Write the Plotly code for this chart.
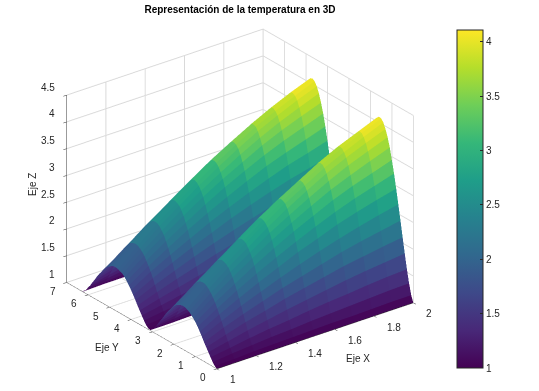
import plotly.graph_objects as go

x_values = [1.0,1.1,1.2,1.3,1.4,1.5,1.6,1.7,1.8,1.9,2.0]
y_values = [0,.1,.2,.3,.4,.5,.6,.7,.8,.9,1.0,1.1,1.2,1.3,1.4,1.5,1.6,1.7,1.8,1.9,2.0,2.1,2.2,2.3,2.4,2.5,2.6,2.7,2.8,2.9,3.0,3.1,
            3.2,3.3,3.4,3.5,3.6,3.7,3.8,3.9,4.0,4.1,4.2,4.3,4.4,4.5,4.6,4.7,4.8,4.9,5.0,5.1,5.2,5.3,5.4,5.5,5.6,5.7,5.8,5.9,6.0,6.1,6.2,6.283]
z_rows = [
[1.00,1.00,1.00,1.00,1.00,1.00,1.00,1.00,1.00,1.00,1.00],
[1.03,1.04,1.06,1.07,1.08,1.09,1.10,1.10,1.11,1.12,1.12],
[1.08,1.12,1.15,1.18,1.20,1.23,1.25,1.27,1.29,1.31,1.32],
[1.15,1.20,1.26,1.31,1.35,1.40,1.44,1.47,1.51,1.54,1.56],
[1.22,1.30,1.38,1.45,1.52,1.58,1.64,1.70,1.75,1.79,1.83],
[1.29,1.40,1.51,1.60,1.70,1.78,1.86,1.94,2.00,2.06,2.11],
[1.36,1.51,1.64,1.76,1.88,1.98,2.08,2.18,2.26,2.33,2.40],
[1.44,1.61,1.77,1.91,2.05,2.18,2.30,2.41,2.51,2.60,2.68],
[1.51,1.71,1.89,2.06,2.22,2.38,2.51,2.65,2.76,2.86,2.95],
[1.58,1.80,2.01,2.20,2.38,2.55,2.71,2.86,2.99,3.10,3.21],
[1.64,1.89,2.11,2.33,2.53,2.72,2.89,3.06,3.20,3.32,3.44],
[1.69,1.96,2.21,2.44,2.66,2.86,3.05,3.23,3.38,3.52,3.65],
[1.73,2.02,2.29,2.53,2.77,2.98,3.18,3.37,3.54,3.68,3.82],
[1.77,2.07,2.35,2.60,2.85,3.08,3.29,3.49,3.66,3.81,3.95],
[1.79,2.11,2.39,2.66,2.91,3.15,3.36,3.57,3.74,3.90,4.05],
[1.81,2.13,2.41,2.68,2.94,3.18,3.40,3.61,3.79,3.95,4.10],
[1.81,2.13,2.42,2.69,2.95,3.19,3.41,3.62,3.80,3.96,4.11],
[1.80,2.12,2.40,2.67,2.93,3.16,3.38,3.59,3.77,3.92,4.07],
[1.78,2.09,2.37,2.63,2.88,3.11,3.32,3.52,3.70,3.85,3.99],
[1.75,2.05,2.31,2.56,2.81,3.03,3.23,3.43,3.59,3.74,3.88],
[1.71,1.99,2.24,2.48,2.71,2.92,3.11,3.29,3.45,3.59,3.72],
[1.66,1.92,2.16,2.38,2.59,2.78,2.96,3.13,3.28,3.41,3.53],
[1.60,1.84,2.05,2.25,2.45,2.62,2.79,2.94,3.08,3.20,3.31],
[1.54,1.75,1.94,2.12,2.29,2.45,2.60,2.74,2.86,2.96,3.06],
[1.47,1.65,1.82,1.98,2.13,2.26,2.39,2.51,2.62,2.71,2.79],
[1.39,1.55,1.69,1.82,1.95,2.07,2.17,2.28,2.36,2.44,2.51],
[1.32,1.45,1.56,1.67,1.77,1.87,1.95,2.03,2.11,2.17,2.23],
[1.25,1.34,1.43,1.51,1.59,1.67,1.73,1.80,1.85,1.90,1.95],
[1.17,1.24,1.31,1.37,1.42,1.47,1.52,1.57,1.60,1.64,1.67],
[1.11,1.15,1.19,1.23,1.26,1.30,1.33,1.35,1.38,1.40,1.42],
[1.05,1.07,1.09,1.11,1.13,1.14,1.16,1.17,1.18,1.19,1.20],
[1.01,1.01,1.02,1.02,1.02,1.03,1.03,1.03,1.03,1.03,1.04],
[1.02,1.02,1.03,1.03,1.04,1.04,1.05,1.05,1.05,1.06,1.06],
[1.06,1.09,1.11,1.13,1.15,1.16,1.18,1.20,1.21,1.22,1.23],
[1.12,1.17,1.21,1.25,1.29,1.32,1.36,1.39,1.41,1.44,1.46],
[1.19,1.26,1.33,1.39,1.45,1.51,1.56,1.61,1.65,1.68,1.72],
[1.26,1.36,1.45,1.54,1.62,1.70,1.77,1.84,1.89,1.94,1.99],
[1.33,1.46,1.58,1.69,1.80,1.90,1.99,2.08,2.15,2.22,2.28],
[1.41,1.57,1.71,1.85,1.98,2.10,2.21,2.32,2.41,2.49,2.56],
[1.48,1.67,1.84,2.00,2.15,2.30,2.43,2.55,2.66,2.75,2.84],
[1.55,1.77,1.96,2.14,2.32,2.48,2.63,2.77,2.90,3.00,3.11],
[1.61,1.85,2.07,2.28,2.47,2.65,2.82,2.98,3.11,3.23,3.35],
[1.67,1.93,2.17,2.39,2.61,2.81,2.99,3.16,3.31,3.44,3.57],
[1.72,2.00,2.26,2.50,2.73,2.94,3.13,3.32,3.48,3.62,3.75],
[1.76,2.05,2.32,2.58,2.82,3.04,3.25,3.44,3.61,3.76,3.90],
[1.78,2.09,2.38,2.64,2.89,3.12,3.34,3.54,3.71,3.87,4.01],
[1.80,2.12,2.41,2.67,2.93,3.17,3.39,3.60,3.77,3.93,4.08],
[1.81,2.13,2.42,2.69,2.95,3.19,3.41,3.62,3.80,3.96,4.11],
[1.81,2.12,2.41,2.68,2.94,3.18,3.40,3.61,3.79,3.95,4.09],
[1.79,2.10,2.38,2.65,2.90,3.14,3.35,3.55,3.73,3.89,4.03],
[1.76,2.07,2.34,2.59,2.84,3.07,3.27,3.47,3.64,3.79,3.93],
[1.73,2.01,2.28,2.52,2.75,2.97,3.16,3.35,3.51,3.66,3.79],
[1.68,1.95,2.19,2.42,2.64,2.84,3.03,3.20,3.35,3.49,3.62],
[1.63,1.87,2.10,2.31,2.51,2.69,2.86,3.03,3.16,3.29,3.40],
[1.56,1.79,1.99,2.18,2.36,2.53,2.68,2.83,2.95,3.06,3.17],
[1.50,1.69,1.87,2.04,2.20,2.34,2.48,2.61,2.72,2.81,2.91],
[1.43,1.59,1.75,1.89,2.02,2.15,2.27,2.38,2.47,2.55,2.63],
[1.35,1.49,1.62,1.73,1.85,1.95,2.05,2.14,2.22,2.28,2.35],
[1.28,1.39,1.49,1.58,1.67,1.75,1.82,1.90,1.96,2.01,2.06],
[1.20,1.28,1.36,1.43,1.49,1.55,1.61,1.66,1.71,1.75,1.78],
[1.14,1.19,1.24,1.28,1.33,1.37,1.40,1.44,1.47,1.50,1.52],
[1.07,1.10,1.13,1.16,1.18,1.20,1.22,1.24,1.26,1.27,1.29],
[1.02,1.03,1.04,1.05,1.06,1.07,1.07,1.08,1.09,1.09,1.10],
[1.00,1.00,1.00,1.00,1.00,1.00,1.00,1.00,1.00,1.00,1.00],
]
x_ticks = [1,1.2,1.4,1.6,1.8,2]
x_tick_text = ['1','1.2','1.4','1.6','1.8','2']
y_ticks = [0,1,2,3,4,5,6,7]
y_tick_text = ['0','1','2','3','4','5','6','7']
z_ticks = [1,1.5,2,2.5,3,3.5,4,4.5]
z_tick_text = ['1','1.5','2','2.5','3','3.5','4','4.5']
bar_ticks = [1,1.5,2,2.5,3,3.5,4]
bar_tick_text = ['1','1.5','2','2.5','3','3.5','4']

W,H=539,391
def px(v): return v/W
def py(v): return 1-v/H

vx,vy,vz=[],[],[]
for r,y in enumerate(y_values):
    for c,x in enumerate(x_values):
        vx.append(x);vy.append(y);vz.append(z_rows[r][c])
nc=len(x_values)
I,J,K,cell=[],[],[],[]
for r in range(len(y_values)-1):
    for c in range(nc-1):
        a=r*nc+c;b=a+1;d=a+nc;e=d+1
        m=(vz[a]+vz[b]+vz[d]+vz[e])/4
        I+=[a,a];J+=[b,e];K+=[e,d];cell+=[m,m]
dark='#262626'
font=dict(family='Liberation Sans',size=10,color=dark)
fig=go.Figure(go.Mesh3d(x=vx,y=vy,z=vz,i=I,j=J,k=K,intensity=cell,intensitymode='cell',colorscale='Viridis',cmin=1,cmax=4.11,
    flatshading=True,lighting=dict(ambient=1,diffuse=0,specular=0,fresnel=0,roughness=1),hoverinfo='skip',
    colorbar=dict(x=px(457),xanchor='left',y=py(199),yanchor='middle',len=338/H,lenmode='fraction',thickness=26,thicknessmode='pixels',
        ticks='inside',ticklen=3,tickcolor=dark,tickvals=bar_ticks,ticktext=bar_tick_text,
        outlinecolor=dark,outlinewidth=1,tickfont=font,xpad=0,ypad=0)))
ax=dict(showbackground=False,gridcolor='#d9d9d9',showline=True,linecolor=dark,linewidth=1,ticks='outside',ticklen=4,tickcolor=dark,
    showticklabels=False,showspikes=False,zeroline=False,title=dict(text=''))
scene_notes=[]
for v,t in zip(x_ticks,x_tick_text):
    scene_notes.append(dict(x=v,y=0,z=1,text=t,showarrow=False,xanchor='left',yanchor='middle',xshift=11,yshift=-11,font=font))
for v,t in zip(y_ticks,y_tick_text):
    scene_notes.append(dict(x=1,y=v,z=1,text=t,showarrow=False,xanchor='center',yanchor='middle',xshift=-14,yshift=-9,font=font))
for v,t in zip(z_ticks,z_tick_text):
    scene_notes.append(dict(x=1,y=7,z=v,text=t,showarrow=False,xanchor='right',yanchor='middle',xshift=-10,yshift=8,font=font))
bar_marks=[dict(x=px(457.5),y=py(368-108.6*(v-1)),xref='paper',yref='paper',showarrow=True,arrowhead=0,arrowwidth=1,arrowcolor=dark,ax=3,ay=0,standoff=0) for v in bar_ticks[1:]]
k=1.352
fig.update_layout(width=W,height=H,margin=dict(l=0,r=0,t=0,b=0),paper_bgcolor='white',
    title=dict(text='<b>Representación de la temperatura en 3D</b>',x=px(240),xanchor='center',y=py(9),yanchor='middle',font=dict(family='Liberation Sans',size=10,color='black')),
    scene=dict(domain=dict(x=[px(0),px(480)],y=[py(199+183),py(199-183)]),
        aspectmode='manual',aspectratio=dict(x=k,y=k,z=0.843*k),
        camera=dict(projection=dict(type='orthographic'),eye=dict(x=-.546*1.21,y=-.714*1.21,z=.44*1.21),up=dict(x=0,y=0,z=1),center=dict(x=0,y=0,z=0)),
        xaxis=dict(ax,range=[1,2],tickvals=x_ticks),
        yaxis=dict(ax,range=[0,7],tickvals=y_ticks),
        zaxis=dict(ax,range=[1,4.5],tickvals=z_ticks),
        annotations=scene_notes),
    annotations=[dict(text='Eje X',x=px(358),y=py(358),xref='paper',yref='paper',xanchor='center',yanchor='middle',showarrow=False,font=font),
        dict(text='Eje Y',x=px(107),y=py(347),xref='paper',yref='paper',xanchor='center',yanchor='middle',showarrow=False,font=font),
        dict(text='Eje Z',x=px(32),y=py(185),xref='paper',yref='paper',xanchor='center',yanchor='middle',showarrow=False,textangle=-90,font=font)]+bar_marks)
fig.write_html("out.html", post_script="document.body.style.margin='0';", config={'displayModeBar':False})
